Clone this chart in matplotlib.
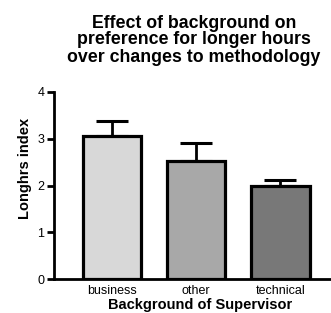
import matplotlib.pyplot as plt

categories = ['business', 'other', 'technical']
means = [3.05, 2.52, 2.0]
errors = [0.32, 0.38, 0.12]
colors = ['#d8d8d8', '#a8a8a8', '#787878']

plt.rcParams['font.family'] = ['Liberation Sans', 'DejaVu Sans']

fig = plt.figure(figsize=(3.31, 3.13), dpi=100)
ax = fig.add_axes([54 / 331, 1 - 279 / 313, 1 - 54 / 331, (279 - 92) / 313])

x = list(range(len(categories)))
ax.bar(x, means, width=0.69, color=colors, edgecolor='black', linewidth=2.3, zorder=2)
ax.errorbar(x, means, yerr=[[0] * 3, errors], fmt='none', ecolor='black',
            elinewidth=2, capsize=11.5, capthick=2.2, zorder=1)

ax.set_xlim(-0.69, 2.6)
ax.set_ylim(0, 4)
ax.set_yticks([0, 1, 2, 3, 4])
ax.set_xticks(x)
ax.set_xticklabels(categories, fontsize=9)
ax.tick_params(axis='x', length=0, pad=4)
ax.tick_params(axis='y', length=5, width=2, labelsize=9, pad=2)
for s in ['top', 'right']:
    ax.spines[s].set_visible(False)
for s in ['left', 'bottom']:
    ax.spines[s].set_linewidth(2)

fig.text(200 / 331, 1 - 305 / 313, 'Background of Supervisor', fontsize=10.5,
         fontweight='bold', ha='center', va='center')
fig.text(25 / 331, 1 - 168 / 313, 'Longhrs index', rotation=90, fontsize=10.5,
         fontweight='bold', ha='center', va='center')

fig.text(194 / 331, 1 - 40 / 313,
         'Effect of background on\npreference for longer hours\nover changes to methodology',
         ha='center', va='center', fontsize=12.8, fontweight='bold', linespacing=1.0)

fig.savefig('out.png', dpi=100)
